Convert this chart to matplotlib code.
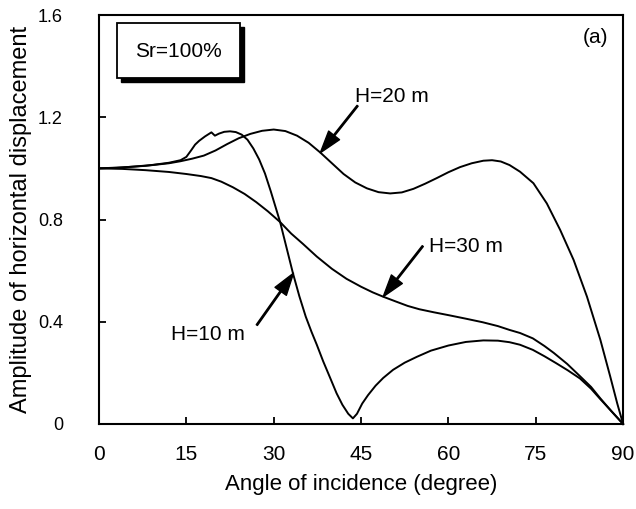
import numpy as np
import matplotlib
matplotlib.use('Agg')
import matplotlib.pyplot as plt
from matplotlib.patches import Rectangle

plt.rcParams['font.family'] = ['Liberation Sans', 'DejaVu Sans']

# values (angle in degrees, amplitude)
h10_x = [0, 3, 6, 9, 12, 14, 15, 15.8, 16.5, 17.2, 18.2, 19.3, 19.9, 20.6, 21.5,
         22.5, 23.5, 24.5, 25.5, 26.5, 27.5, 28.5, 29.5, 30.3, 31.1, 32.2, 33.3,
         34.4, 35.5, 36.5, 37.4, 38.5, 39.7, 40.8, 41.8, 42.8, 43.6, 44.3, 45.2,
         46.2, 47.5, 48.8, 50.5, 52.5, 54.6, 57, 60, 63, 66, 68.5, 70.5, 72.3,
         74.5, 76.5, 78.5, 80.5, 82.6, 84.5, 86.1, 88, 90]
h10_y = [1.0, 1.002, 1.007, 1.013, 1.022, 1.032, 1.045, 1.07, 1.093, 1.108, 1.125,
         1.141, 1.128, 1.136, 1.143, 1.145, 1.142, 1.132, 1.112, 1.078, 1.035, 0.98,
         0.91, 0.85, 0.79, 0.69, 0.59, 0.50, 0.42, 0.36, 0.31, 0.245, 0.18, 0.12,
         0.075, 0.04, 0.022, 0.04, 0.08, 0.113, 0.15, 0.18, 0.212, 0.24, 0.263,
         0.287, 0.307, 0.321, 0.327, 0.326, 0.32, 0.31, 0.29, 0.265, 0.238, 0.21,
         0.178, 0.138, 0.097, 0.05, 0.0]

h20_x = [0, 4, 8, 12, 14, 16, 18, 20, 22, 24, 26, 28, 30, 32, 34, 36, 38, 40, 42,
         44, 46, 48, 50, 52, 54, 56, 58, 60, 62, 64, 66, 67.5, 69, 70.5, 72.3,
         74.6, 76.9, 79.2, 81.5, 83.8, 86.1, 87.8, 89, 90]
h20_y = [1.0, 1.004, 1.01, 1.02, 1.028, 1.038, 1.05, 1.07, 1.095, 1.118, 1.135,
         1.147, 1.152, 1.146, 1.128, 1.1, 1.062, 1.02, 0.978, 0.945, 0.922, 0.907,
         0.902, 0.906, 0.92, 0.94, 0.962, 0.985, 1.005, 1.02, 1.03, 1.032, 1.027,
         1.013, 0.987, 0.942, 0.863, 0.759, 0.642, 0.498, 0.329, 0.185, 0.08, 0.0]

h30_x = [0, 4, 8, 12, 15, 17.5, 19.3, 21, 23, 25, 27, 29, 31.1, 33, 35, 37.4, 40,
         42.5, 45, 47, 48.8, 51, 53, 55, 57.5, 60.2, 63, 65.9, 68.5, 70.5, 72.3,
         74.5, 76.5, 78.1, 80.4, 82.6, 84.5, 86.1, 88, 90]
h30_y = [1.0, 0.998, 0.993, 0.986, 0.978, 0.97, 0.962, 0.948, 0.926, 0.9, 0.868,
         0.832, 0.79, 0.745, 0.705, 0.655, 0.607, 0.568, 0.537, 0.515, 0.498, 0.479,
         0.462, 0.449, 0.437, 0.425, 0.412, 0.398, 0.383, 0.368, 0.356, 0.335,
         0.305, 0.278, 0.235, 0.187, 0.145, 0.1, 0.05, 0.0]

x_ticks = [0, 15, 30, 45, 60, 75, 90]
y_ticks = [0, 0.4, 0.8, 1.2, 1.6]
y_labels = ['0', '0.4', '0.8', '1.2', '1.6']

fig = plt.figure(figsize=(6.36, 5.09), dpi=100)
ax = fig.add_axes([0.1557, 0.167, 0.824, 0.8035])

for xs, ys in [(h10_x, h10_y), (h20_x, h20_y), (h30_x, h30_y)]:
    ax.plot(xs, ys, color='black', lw=1.4, clip_on=False, solid_joinstyle='round')

ax.set_xlim(0, 90)
ax.set_ylim(0, 1.6)
ax.set_xticks(x_ticks)
ax.set_yticks(y_ticks)
ax.set_yticklabels(y_labels)
ax.tick_params(direction='in', length=5, width=1.3, top=False, right=False)
ax.tick_params(axis='x', labelsize=15, pad=15)
ax.tick_params(axis='y', labelsize=13, pad=26)
for s in ax.spines.values():
    s.set_linewidth(1.5)

ax.set_xlabel('Angle of incidence (degree)', fontsize=16, labelpad=7)
ax.set_ylabel('Amplitude of horizontal displacement', fontsize=17, labelpad=4)

# curve labels with filled arrows
arrow = dict(facecolor='black', edgecolor='black', width=1.0, headwidth=10,
             headlength=16, shrink=0)
ax.annotate('', xy=(38.0, 1.061), xytext=(44.4, 1.245), arrowprops=arrow)
ax.text(44.0, 1.26, 'H=20 m', fontsize=15, ha='left', va='baseline')
ax.annotate('', xy=(48.8, 0.498), xytext=(55.6, 0.696), arrowprops=arrow)
ax.text(56.6, 0.671, 'H=30 m', fontsize=15, ha='left', va='baseline')
ax.annotate('', xy=(33.4, 0.59), xytext=(27.1, 0.387), arrowprops=arrow)
ax.text(25.1, 0.329, 'H=10 m', fontsize=15, ha='right', va='baseline')

ax.text(87.5, 1.489, '(a)', fontsize=15, ha='right', va='baseline')

# Sr box with drop shadow
off_x = 4 / 524
off_y = 4 / 409
ax.add_patch(Rectangle((0.034 + off_x, 0.845 - off_y), 0.235, 0.135,
                       transform=ax.transAxes, facecolor='black', edgecolor='black', zorder=4))
ax.add_patch(Rectangle((0.034, 0.845), 0.235, 0.135, transform=ax.transAxes,
                       facecolor='white', edgecolor='black', lw=1.3, zorder=5))
ax.text(0.1515, 0.912, 'Sr=100%', fontsize=15, ha='center', va='center',
        transform=ax.transAxes, zorder=6)

fig.savefig('out.png', dpi=100)
